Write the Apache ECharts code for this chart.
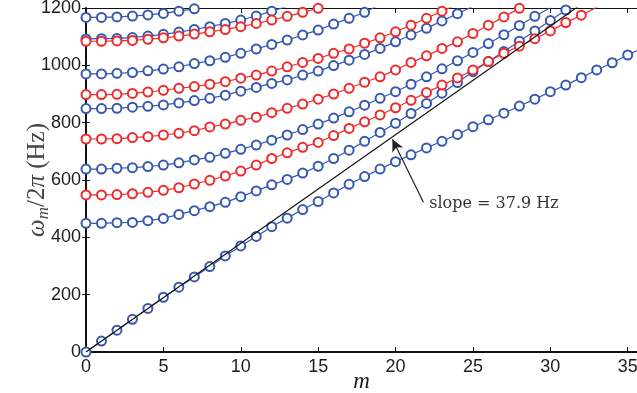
<!DOCTYPE html>
<html>
<head>
<meta charset="utf-8">
<script src="https://cdn.jsdelivr.net/npm/echarts@6/dist/echarts.min.js"></script>
<style>
  html, body { margin: 0; padding: 0; background: #fff; }
  #chart { width: 637px; height: 393px; }
</style>
</head>
<body>
<div id="chart"></div>
<script>
// branch frequencies (Hz) at m = 0, 1, 2, ...
const branchA = [1167, 1167, 1169, 1172, 1176, 1181, 1189, 1197];
const branchB = [1092, 1093, 1094, 1097, 1102, 1108, 1116, 1125, 1135, 1146, 1158, 1172, 1189, 1206];
const branchC = [1084, 1084, 1085, 1087, 1091, 1096, 1102, 1109, 1117, 1125, 1135, 1146, 1158, 1171, 1185, 1199];
const branchD = [970, 970, 972, 975, 981, 987, 995, 1006, 1016, 1028, 1042, 1057, 1073, 1088, 1106, 1123, 1144, 1164, 1185, 1212];
const branchE = [898, 898, 899, 902, 907, 913, 920, 926, 934, 943, 955, 966, 980, 995, 1010, 1024, 1042, 1057, 1077, 1096, 1117, 1140, 1164, 1189, 1213];
const branchF = [849, 849, 850, 854, 857, 862, 869, 877, 885, 896, 910, 923, 937, 949, 966, 980, 999, 1018, 1038, 1059, 1082, 1106, 1129, 1155, 1180, 1206];
const branchG = [743, 743, 744, 748, 751, 757, 763, 772, 785, 795, 808, 819, 835, 850, 865, 882, 900, 920, 941, 960, 984, 1010, 1033, 1059, 1082, 1111, 1140, 1169, 1199];
const branchH = [638, 638, 641, 643, 647, 652, 660, 670, 679, 693, 707, 722, 739, 757, 776, 795, 816, 838, 861, 885, 908, 934, 960, 988, 1016, 1045, 1076, 1107, 1139, 1171, 1201];
const branchI = [548, 548, 549, 552, 557, 564, 573, 586, 599, 614, 631, 652, 675, 695, 714, 731, 755, 780, 803, 827, 852, 878, 905, 931, 956, 984, 1013, 1042, 1067, 1093, 1120, 1149, 1175, 1203];
const branchJ = [449, 449, 451, 452, 458, 466, 480, 493, 507, 522, 542, 562, 583, 602, 624, 648, 675, 704, 735, 766, 798, 832, 867, 903, 940, 978, 1013, 1048, 1084, 1120, 1156, 1193, 1230];
const branchK = [0, 38, 76, 114, 152, 191, 226, 262, 298, 335, 370, 403, 437, 467, 497, 525, 555, 585, 612, 638, 664, 688, 712, 735, 759, 786, 810, 833, 858, 882, 908, 931, 957, 984, 1009, 1036, 1062];

const blueBranches = [branchA, branchB, branchD, branchF, branchH, branchJ, branchK];
const redBranches = [branchC, branchE, branchG, branchI];

const slope = 37.9;
const slopeLineEnds = [0, 35];
const slopeLabel = "slope = 37.9 Hz";
const arrowTail = [21.8, 522];
const arrowHead = [19.8, 742];

const xTicks = [0, 5, 10, 15, 20, 25, 30, 35];

const BLUE = "#3658b0";
const RED = "#ee2b2b";
const TEXT = "#1c1c1c";

function branchSeries(values, color) {
  return {
    type: "line",
    data: values.map((v, m) => [m, v]),
    symbol: "emptyCircle",
    symbolSize: 9,
    lineStyle: { color, width: 1.2 },
    itemStyle: { color, borderColor: color, borderWidth: 1.2 },
    clip: true,
    silent: true,
    z: 3,
  };
}

const chart = echarts.init(document.getElementById("chart"), null, { renderer: "canvas" });

const series = [
  ...blueBranches.map((b) => branchSeries(b, BLUE)),
  ...redBranches.map((b) => branchSeries(b, RED)),
  {
    type: "line",
    data: slopeLineEnds.map((m) => [m, slope * m]),
    symbol: "none",
    lineStyle: { color: "#111", width: 1.2 },
    clip: true,
    silent: true,
    z: 4,
    markLine: {
      silent: true,
      symbol: ["none", "arrow"],
      symbolSize: [9, 12],
      lineStyle: { color: "#222", width: 1.2, type: "solid" },
      label: { show: false },
      data: [[{ coord: arrowTail }, { coord: arrowHead }]],
    },
    markPoint: {
      silent: true,
      symbol: "circle",
      symbolSize: 0,
      data: [{ coord: [arrowTail[0] + 0.25, arrowTail[1] - 5] }],
      label: {
        show: true,
        position: "right",
        distance: 2,
        formatter: slopeLabel,
        fontFamily: "DejaVu Serif",
        fontSize: 16,
        color: "#333",
      },
    },
  },
];

chart.setOption({
  animation: false,
  backgroundColor: "#fff",
  grid: { left: 86, right: 0, top: 8, bottom: 41, containLabel: false, outerBoundsMode: "none" },
  xAxis: [
    {
      type: "value",
      min: 0,
      max: 35.6,
      interval: 5,
      position: "bottom",
      name: "m",
      nameLocation: "middle",
      nameGap: 18,
      nameMoveOverlap: false,
      nameTextStyle: { fontFamily: "Liberation Serif", fontStyle: "italic", fontSize: 23, color: TEXT },
      axisLine: { show: true, lineStyle: { color: "#111", width: 2.2 } },
      axisTick: { show: true, inside: true, length: 5, lineStyle: { color: "#111" } },
      axisLabel: {
        margin: 6,
        fontFamily: "Liberation Sans",
        fontSize: 18,
        color: TEXT,
        formatter: (v) => (xTicks.includes(v) ? String(v) : ""),
      },
      splitLine: { show: false },
    },
    {
      type: "value",
      min: 0,
      max: 35.6,
      interval: 5,
      position: "top",
      axisLine: { show: true, onZero: false, lineStyle: { color: "#111", width: 1 } },
      axisTick: { show: true, inside: true, length: 5, lineStyle: { color: "#111" } },
      axisLabel: { show: false },
      splitLine: { show: false },
    },
  ],
  yAxis: [
    {
      type: "value",
      min: 0,
      max: 1200,
      interval: 200,
      name: "{a|ω}{b|m}{c|/2}{a|π}{c| (Hz)}",
      nameLocation: "middle",
      nameRotate: 90,
      nameGap: 34,
      nameMoveOverlap: false,
      nameTextStyle: {
        rich: {
          a: { fontFamily: "Liberation Serif", fontStyle: "italic", fontSize: 25, color: "#444", lineHeight: 30 },
          b: { fontFamily: "Liberation Serif", fontStyle: "italic", fontSize: 17, color: "#444", lineHeight: 30, padding: [14, 0, 0, 0] },
          c: { fontFamily: "Liberation Serif", fontSize: 25, color: "#444", lineHeight: 30 },
        },
      },
      axisLine: { show: true, lineStyle: { color: "#111", width: 2 } },
      axisTick: { show: true, inside: true, length: 4, lineStyle: { color: "#111" } },
      axisLabel: { margin: 5, fontFamily: "Liberation Sans", fontSize: 18, color: TEXT, formatter: (v) => String(v) },
      splitLine: { show: false },
    },
    {
      type: "value",
      min: 0,
      max: 1200,
      interval: 200,
      position: "right",
      axisLine: { show: false },
      axisTick: { show: true, inside: true, length: 4, lineStyle: { color: "#111" } },
      axisLabel: { show: false },
      splitLine: { show: false },
    },
  ],
  series,
});
</script>
</body>
</html>
